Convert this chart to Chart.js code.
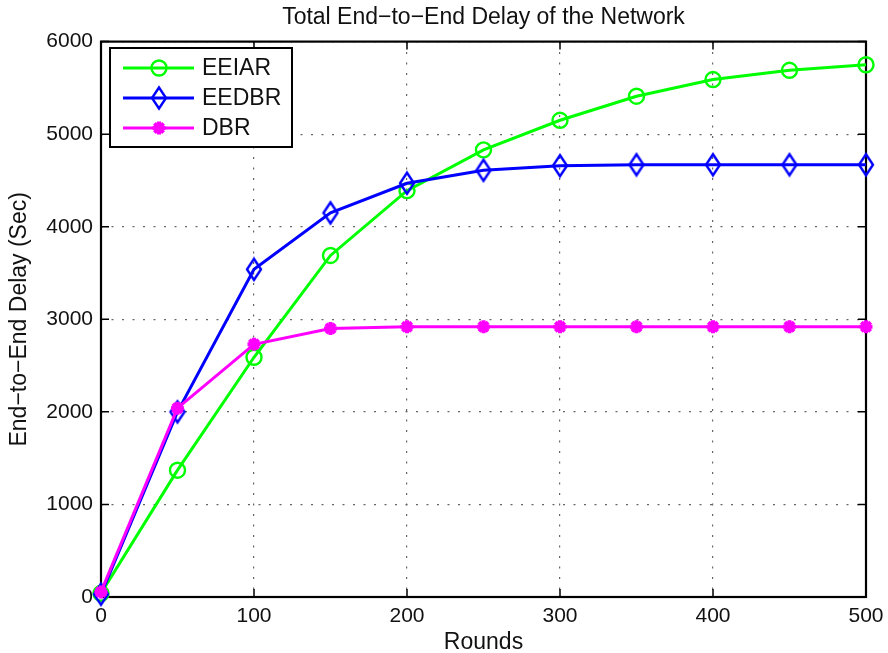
<!DOCTYPE html>
<html>
<head>
<meta charset="utf-8">
<title>Total End-to-End Delay of the Network</title>
<script src="https://cdn.jsdelivr.net/npm/chart.js@4.4.1/dist/chart.umd.min.js"></script>
<style>
  html, body { margin: 0; padding: 0; background: #fff; }
  #wrap { position: relative; width: 888px; height: 653px; }
</style>
</head>
<body>
<div id="wrap"><canvas id="delayChart"></canvas></div>
<script>
// data
const rounds = [0, 50, 100, 150, 200, 250, 300, 350, 400, 450, 500];
const eeiar = [40, 1370, 2590, 3690, 4390, 4830, 5150, 5410, 5590, 5690, 5750];
const eedbr = [30, 2000, 3540, 4150, 4470, 4610, 4660, 4670, 4670, 4670, 4670];
const dbr = [55, 2040, 2730, 2900, 2920, 2920, 2920, 2920, 2920, 2920, 2920];
const seriesNames = ['EEIAR', 'EEDBR', 'DBR'];
const xTicks = [0, 100, 200, 300, 400, 500];
const yTicks = [0, 1000, 2000, 3000, 4000, 5000, 6000];

const FONT = '"Liberation Sans", Arial, Helvetica, sans-serif';

function toPoints(ys) {
    return rounds.map((r, i) => ({ x: r, y: ys[i] }));
}

// tall diamond marker like matlab 'd'
function makeDiamond(color) {
    const c = document.createElement('canvas');
    c.width = 20;
    c.height = 26;
    const g = c.getContext('2d');
    g.strokeStyle = color;
    g.lineWidth = 2.4;
    g.beginPath();
    g.moveTo(10, 2.5);
    g.lineTo(17, 13);
    g.lineTo(10, 23.5);
    g.lineTo(3, 13);
    g.closePath();
    g.stroke();
    return c;
}

// box + inward ticks, matlab style
const framePlugin = {
    id: 'frame',
    beforeDatasetsDraw(chart) {
        const { ctx, chartArea: a, scales } = chart;
        ctx.save();
        ctx.strokeStyle = '#000';
        ctx.lineWidth = 1.5;
        ctx.beginPath();
        xTicks.forEach(v => {
            const px = scales.x.getPixelForValue(v);
            ctx.moveTo(px, a.bottom); ctx.lineTo(px, a.bottom - 8);
            ctx.moveTo(px, a.top); ctx.lineTo(px, a.top + 8);
        });
        yTicks.forEach(v => {
            const py = scales.y.getPixelForValue(v);
            ctx.moveTo(a.left, py); ctx.lineTo(a.left + 8, py);
            ctx.moveTo(a.right, py); ctx.lineTo(a.right - 8, py);
        });
        ctx.stroke();
        ctx.lineWidth = 2.2;
        ctx.strokeRect(a.left, a.top, a.right - a.left, a.bottom - a.top);
        ctx.restore();
    }
};

// legend box in the upper left corner
const legendPlugin = {
    id: 'boxLegend',
    afterDraw(chart) {
        const ctx = chart.ctx;
        const bx = 110, by = 48, bw = 182, bh = 99;
        ctx.save();
        ctx.fillStyle = '#fff';
        ctx.fillRect(bx, by, bw, bh);
        ctx.strokeStyle = '#000';
        ctx.lineWidth = 2;
        ctx.strokeRect(bx, by, bw, bh);
        chart.data.datasets.forEach((ds, i) => {
            const y = 68 + i * 30;
            ctx.strokeStyle = ds.borderColor;
            ctx.lineWidth = ds.borderWidth;
            ctx.beginPath();
            ctx.moveTo(123, y);
            ctx.lineTo(194, y);
            ctx.stroke();
            ctx.strokeStyle = ds.pointBorderColor;
            ctx.fillStyle = ds.pointBackgroundColor;
            ctx.lineWidth = ds.pointBorderWidth;
            Chart.helpers.drawPoint(ctx, {
                pointStyle: ds.pointStyle,
                radius: ds.pointRadius,
                borderWidth: ds.pointBorderWidth,
                rotation: 0
            }, 159, y);
            ctx.fillStyle = '#111';
            ctx.font = '23px ' + FONT;
            ctx.textBaseline = 'middle';
            ctx.textAlign = 'left';
            ctx.fillText(ds.label, 202, y + 1);
        });
        ctx.restore();
    }
};

document.addEventListener('DOMContentLoaded', function() {
    if (typeof Chart === 'undefined') {
        console.error('Chart.js did not load');
        return;
    }
    Chart.defaults.font.family = FONT;
    Chart.defaults.color = '#111';

    new Chart(document.getElementById('delayChart'), {
        type: 'line',
        data: {
            datasets: [
                {
                    label: seriesNames[0],
                    data: toPoints(eeiar),
                    borderColor: '#00ff00',
                    borderWidth: 3,
                    pointStyle: 'circle',
                    pointRadius: 7.5,
                    pointBorderWidth: 2.4,
                    pointBorderColor: '#00ff00',
                    pointBackgroundColor: 'rgba(0,0,0,0)',
                    order: 3
                },
                {
                    label: seriesNames[1],
                    data: toPoints(eedbr),
                    borderColor: '#0000ff',
                    borderWidth: 3,
                    pointStyle: makeDiamond('#0000ff'),
                    pointRadius: 10,
                    pointBorderWidth: 2.4,
                    pointBorderColor: '#0000ff',
                    pointBackgroundColor: 'rgba(0,0,0,0)',
                    order: 2
                },
                {
                    label: seriesNames[2],
                    data: toPoints(dbr),
                    borderColor: '#ff00ff',
                    borderWidth: 3,
                    pointStyle: 'star',
                    pointRadius: 6.5,
                    pointBorderWidth: 4,
                    pointBorderColor: '#ff00ff',
                    pointBackgroundColor: '#ff00ff',
                    order: 1
                }
            ]
        },
        options: {
            responsive: true,
            maintainAspectRatio: false,
            animation: false,
            events: [],
            clip: false,
            elements: { line: { tension: 0 } },
            layout: { padding: { left: 0, right: 22, top: 0, bottom: 0 } },
            plugins: {
                legend: { display: false },
                tooltip: { enabled: false },
                title: {
                    display: true,
                    fullSize: false,
                    text: 'Total End\u2212to\u2212End Delay of the Network',
                    font: { size: 23, weight: 'normal' },
                    color: '#111',
                    padding: { top: 4, bottom: 10 }
                }
            },
            scales: {
                x: {
                    type: 'linear',
                    min: 0,
                    max: 500,
                    afterBuildTicks: s => { s.ticks = xTicks.map(v => ({ value: v })); },
                    afterFit: s => { s.height = 56; s.paddingRight = 0; s.paddingLeft = 0; },
                    ticks: { font: { size: 21 }, padding: 7, maxRotation: 0, callback: v => String(v) },
                    grid: { color: '#666', lineWidth: 1.2, drawTicks: false },
                    border: { display: false, dash: [2, 8.5] },
                    title: {
                        display: true,
                        text: 'Rounds',
                        font: { size: 23 },
                        padding: { top: 0, bottom: -3 }
                    }
                },
                y: {
                    min: 0,
                    max: 6000,
                    afterBuildTicks: s => { s.ticks = yTicks.map(v => ({ value: v })); },
                    afterFit: s => { s.width = 101; },
                    ticks: { font: { size: 21 }, padding: 8, callback: v => String(v) },
                    grid: { color: '#666', lineWidth: 1.2, drawTicks: false },
                    border: { display: false, dash: [2, 8.5] },
                    title: {
                        display: true,
                        text: 'End\u2212to\u2212End Delay (Sec)',
                        font: { size: 23 },
                        padding: { top: 6, bottom: 0 }
                    }
                }
            }
        },
        plugins: [framePlugin, legendPlugin]
    });
});
</script>
</body>
</html>
